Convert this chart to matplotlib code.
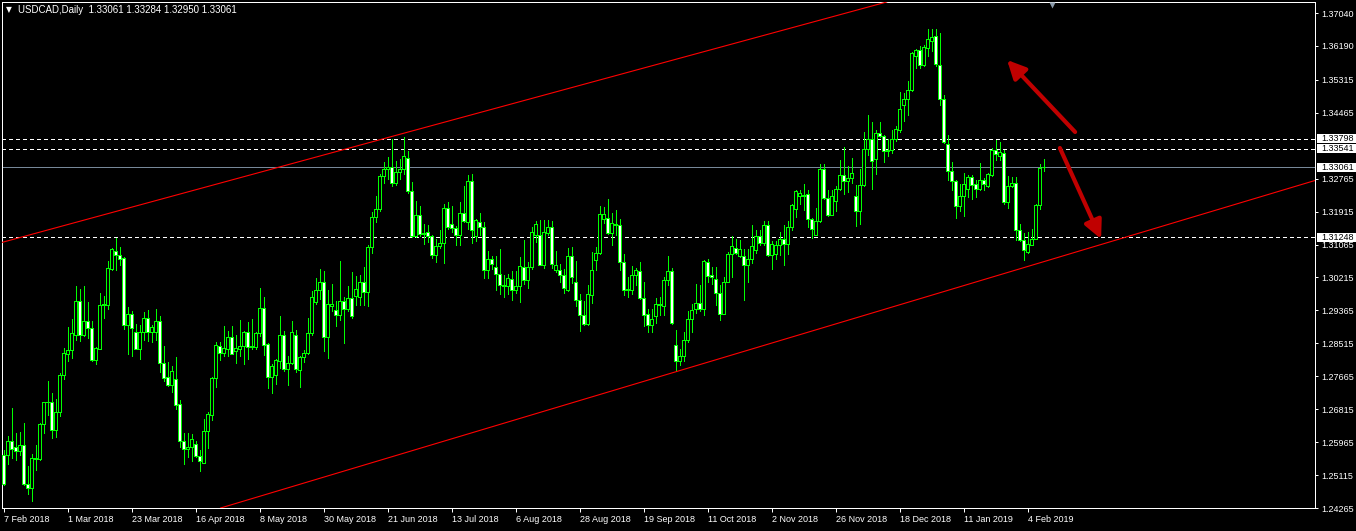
import numpy as np
import pandas as pd
import matplotlib
matplotlib.use("Agg")
import matplotlib.pyplot as plt
import matplotlib.transforms as mtransforms
from matplotlib.collections import LineCollection, PolyCollection
from matplotlib.patches import Rectangle

plt.rcParams['font.family'] = ['Liberation Sans', 'DejaVu Sans']

# --- dane: USDCAD D1, 7 Feb 2018 - 8 Feb 2019 (odczyt z wykresu) ---
symbol = "USDCAD,Daily"

opens = [
    1.2562, 1.2562, 1.2599, 1.2583, 1.2573, 1.2588, 1.2488, 1.2477, 1.2555, 1.2553,
    1.2642, 1.2699, 1.2699, 1.2629, 1.2673, 1.2771, 1.2825, 1.2833, 1.2872, 1.2961,
    1.2872, 1.2908, 1.2892, 1.2809, 1.2838, 1.2950, 1.2951, 1.3044, 1.3089, 1.3079,
    1.3071, 1.2900, 1.2926, 1.2880, 1.2838, 1.2882, 1.2918, 1.2880, 1.2882, 1.2908,
    1.2802, 1.2764, 1.2743, 1.2759, 1.2694, 1.2599, 1.2578, 1.2583, 1.2591, 1.2560,
    1.2543, 1.2624, 1.2667, 1.2762, 1.2844, 1.2827, 1.2838, 1.2867, 1.2831, 1.2838,
    1.2844, 1.2881, 1.2844, 1.2841, 1.2877,
    1.2943, 1.2850, 1.2764, 1.2769, 1.2807, 1.2872, 1.2784, 1.2800, 1.2872, 1.2782,
    1.2815, 1.2826, 1.2877, 1.2957, 1.2988, 1.3011, 1.2869, 1.2949, 1.2937, 1.2925,
    1.2962, 1.2939, 1.2968, 1.2974, 1.2972, 1.3009, 1.2983, 1.3099, 1.3177, 1.3197,
    1.3283, 1.3301, 1.3306, 1.3264, 1.3293, 1.3302, 1.3331, 1.3244, 1.3129, 1.3182,
    1.3134, 1.3138, 1.3128, 1.3080, 1.3102, 1.3110, 1.3202, 1.3159, 1.3149, 1.3132,
    1.3187, 1.3165, 1.3270, 1.3128, 1.3165, 1.3151, 1.3042, 1.3069, 1.3048, 1.3031,
    1.3001, 1.2999, 1.3017, 1.2988, 1.2999, 1.3048, 1.3016, 1.3048, 1.3130, 1.3130,
    1.3053, 1.3136, 1.3151, 1.3040, 1.3040, 1.3029, 1.2990, 1.3076, 1.3009, 1.2964,
    1.2925, 1.2902, 1.2975, 1.3067, 1.3085, 1.3173, 1.3174, 1.3137, 1.3156, 1.3156,
    1.3061, 1.2990, 1.2988, 1.3027, 1.3037, 1.2968, 1.2928, 1.2898, 1.2923, 1.2951,
    1.2949, 1.3014, 1.3037, 1.2846, 1.2807, 1.2818, 1.2859, 1.2915, 1.2941, 1.2955,
    1.2939, 1.3061, 1.3027, 1.3017, 1.2982, 1.2928, 1.3011, 1.3081, 1.3097, 1.3078,
    1.3078, 1.3053, 1.3068, 1.3093, 1.3128, 1.3110, 1.3156, 1.3080, 1.3083,
    1.3104, 1.3120, 1.3107, 1.3151, 1.3199, 1.3231, 1.3235, 1.3236, 1.3173, 1.3132,
    1.3166, 1.3302, 1.3227, 1.3183, 1.3218, 1.3249, 1.3285, 1.3270, 1.3277, 1.3232,
    1.3194, 1.3259, 1.3352, 1.3378, 1.3328, 1.3394, 1.3386, 1.3347, 1.3350, 1.3380,
    1.3401, 1.3466, 1.3481, 1.3504, 1.3592, 1.3608, 1.3569, 1.3614, 1.3633, 1.3645,
    1.3571, 1.3481, 1.3365, 1.3295, 1.3270, 1.3205, 1.3233, 1.3249, 1.3281, 1.3262,
    1.3251, 1.3272, 1.3257, 1.3287, 1.3351, 1.3334, 1.3342, 1.3215, 1.3257, 1.3265,
    1.3143, 1.3117, 1.3087, 1.3106, 1.3122, 1.3208, 1.33061,
]
highs = [
    1.2575, 1.2612, 1.2685, 1.2620, 1.2623, 1.2646, 1.2534, 1.2565, 1.2588, 1.2646,
    1.2699, 1.2754, 1.2723, 1.2708, 1.2774, 1.2839, 1.2894, 1.2913, 1.2999, 1.2991,
    1.2999, 1.2958, 1.2908, 1.2842, 1.2981, 1.2974, 1.3064, 1.3098, 1.3123, 1.3100,
    1.3074, 1.2945, 1.2935, 1.2901, 1.2900, 1.2932, 1.2937, 1.2899, 1.2939, 1.2922,
    1.2845, 1.2803, 1.2793, 1.2816, 1.2704, 1.2620, 1.2620, 1.2617, 1.2599, 1.2575,
    1.2655, 1.2673, 1.2765, 1.2855, 1.2855, 1.2896, 1.2883, 1.2895, 1.2872, 1.2911,
    1.2883, 1.2906, 1.2913, 1.2881, 1.2994,
    1.2971, 1.2852, 1.2797, 1.2810, 1.2922, 1.2883, 1.2819, 1.2908, 1.2887, 1.2818,
    1.2834, 1.2917, 1.2986, 1.3020, 1.3043, 1.3038, 1.2989, 1.3005, 1.2960, 1.3064,
    1.2971, 1.3000, 1.3036, 1.3025, 1.3027, 1.3048, 1.3104, 1.3190, 1.3233, 1.3289,
    1.3319, 1.3332, 1.3380, 1.3322, 1.3328, 1.3384, 1.3347, 1.3268, 1.3220, 1.3206,
    1.3159, 1.3156, 1.3130, 1.3122, 1.3143, 1.3212, 1.3216, 1.3206, 1.3154, 1.3216,
    1.3257, 1.3285, 1.3288, 1.3173, 1.3188, 1.3165, 1.3089, 1.3076, 1.3076, 1.3096,
    1.3029, 1.3031, 1.3038, 1.3038, 1.3074, 1.3117, 1.3061, 1.3152, 1.3167, 1.3171,
    1.3171, 1.3171, 1.3167, 1.3089, 1.3057, 1.3043, 1.3097, 1.3100, 1.3064, 1.2979,
    1.2961, 1.3003, 1.3087, 1.3100, 1.3206, 1.3203, 1.3223, 1.3188, 1.3195, 1.3172,
    1.3083, 1.3023, 1.3050, 1.3047, 1.3061, 1.3011, 1.2939, 1.2939, 1.2968, 1.2971,
    1.3023, 1.3078, 1.3046, 1.2885, 1.2838, 1.2881, 1.2934, 1.2953, 1.3005, 1.3001,
    1.3067, 1.3068, 1.3048, 1.3048, 1.3003, 1.3023, 1.3087, 1.3128, 1.3122, 1.3119,
    1.3096, 1.3096, 1.3156, 1.3143, 1.3143, 1.3166, 1.3167, 1.3115, 1.3116,
    1.3140, 1.3156, 1.3166, 1.3212, 1.3248, 1.3246, 1.3262, 1.3246, 1.3175, 1.3201,
    1.3315, 1.3315, 1.3246, 1.3246, 1.3257, 1.3324, 1.3358, 1.3308, 1.3330, 1.3259,
    1.3302, 1.3397, 1.3442, 1.3423, 1.3401, 1.3423, 1.3388, 1.3380, 1.3401, 1.3412,
    1.3500, 1.3497, 1.3528, 1.3603, 1.3612, 1.3619, 1.3622, 1.3662, 1.3664, 1.3662,
    1.3652, 1.3492, 1.3388, 1.3319, 1.3272, 1.3262, 1.3292, 1.3285, 1.3285, 1.3272,
    1.3318, 1.3277, 1.3292, 1.3356, 1.3377, 1.3371, 1.3351, 1.3283, 1.3281, 1.3281,
    1.3160, 1.3137, 1.3140, 1.3146, 1.3212, 1.3315, 1.33284,
]
lows = [
    1.2486, 1.2539, 1.2556, 1.2550, 1.2562, 1.2486, 1.2462, 1.2445, 1.2524, 1.2551,
    1.2621, 1.2667, 1.2608, 1.2610, 1.2665, 1.2759, 1.2805, 1.2814, 1.2859, 1.2857,
    1.2870, 1.2864, 1.2806, 1.2799, 1.2836, 1.2917, 1.2941, 1.3042, 1.3042, 1.3053,
    1.2888, 1.2825, 1.2820, 1.2836, 1.2812, 1.2859, 1.2857, 1.2855, 1.2859, 1.2778,
    1.2753, 1.2741, 1.2726, 1.2683, 1.2584, 1.2541, 1.2558, 1.2548, 1.2558, 1.2523,
    1.2542, 1.2582, 1.2653, 1.2740, 1.2809, 1.2819, 1.2819, 1.2823, 1.2802, 1.2820,
    1.2799, 1.2810, 1.2838, 1.2836, 1.2870,
    1.2822, 1.2737, 1.2724, 1.2747, 1.2789, 1.2779, 1.2745, 1.2797, 1.2777, 1.2739,
    1.2803, 1.2825, 1.2872, 1.2954, 1.2967, 1.2832, 1.2814, 1.2935, 1.2895, 1.2911,
    1.2853, 1.2935, 1.2918, 1.2951, 1.2951, 1.2951, 1.2947, 1.3085, 1.3165, 1.3192,
    1.3264, 1.3276, 1.3257, 1.3261, 1.3276, 1.3289, 1.3239, 1.3126, 1.3126, 1.3128,
    1.3109, 1.3113, 1.3072, 1.3061, 1.3098, 1.3060, 1.3146, 1.3139, 1.3106, 1.3106,
    1.3165, 1.3147, 1.3111, 1.3115, 1.3132, 1.3020, 1.3020, 1.3044, 1.2990, 1.2978,
    1.2971, 1.2980, 1.2964, 1.2981, 1.2958, 1.3004, 1.2995, 1.3044, 1.3113, 1.3053,
    1.3047, 1.3130, 1.3047, 1.3036, 1.3011, 1.2982, 1.2986, 1.3007, 1.2949, 1.2883,
    1.2900, 1.2900, 1.2956, 1.3042, 1.3083, 1.3162, 1.3134, 1.3106, 1.3130, 1.3040,
    1.2975, 1.2971, 1.2980, 1.3001, 1.2967, 1.2896, 1.2882, 1.2881, 1.2904, 1.2925,
    1.2925, 1.3003, 1.2902, 1.2779, 1.2795, 1.2805, 1.2855, 1.2881, 1.2931, 1.2934,
    1.2924, 1.3010, 1.3005, 1.2951, 1.2912, 1.2926, 1.3010, 1.3023, 1.3083, 1.3075,
    1.2964, 1.3010, 1.3060, 1.3085, 1.3106, 1.3104, 1.3078, 1.3044, 1.3068,
    1.3080, 1.3053, 1.3083, 1.3143, 1.3177, 1.3212, 1.3195, 1.3152, 1.3123, 1.3130,
    1.3165, 1.3225, 1.3179, 1.3182, 1.3194, 1.3246, 1.3236, 1.3242, 1.3266, 1.3154,
    1.3160, 1.3257, 1.3338, 1.3251, 1.3289, 1.3384, 1.3319, 1.3334, 1.3343, 1.3373,
    1.3397, 1.3426, 1.3442, 1.3502, 1.3562, 1.3562, 1.3566, 1.3592, 1.3605, 1.3566,
    1.3466, 1.3369, 1.3274, 1.3248, 1.3176, 1.3193, 1.3179, 1.3229, 1.3223, 1.3229,
    1.3246, 1.3248, 1.3255, 1.3283, 1.3324, 1.3324, 1.3212, 1.3201, 1.3255, 1.3117,
    1.3115, 1.3066, 1.3085, 1.3104, 1.3120, 1.3199, 1.32950,
]
closes = [
    1.2488, 1.2599, 1.2578, 1.2573, 1.2588, 1.2488, 1.2477, 1.2555, 1.2552, 1.2643,
    1.2699, 1.2701, 1.2629, 1.2673, 1.2771, 1.2826, 1.2833, 1.2877, 1.2962, 1.2872,
    1.2908, 1.2892, 1.2808, 1.2839, 1.2950, 1.2953, 1.3045, 1.3094, 1.3079, 1.3070,
    1.2900, 1.2926, 1.2892, 1.2838, 1.2882, 1.2918, 1.2881, 1.2893, 1.2908, 1.2802,
    1.2763, 1.2745, 1.2779, 1.2693, 1.2599, 1.2578, 1.2583, 1.2604, 1.2560, 1.2547,
    1.2624, 1.2669, 1.2762, 1.2846, 1.2827, 1.2839, 1.2867, 1.2825, 1.2839, 1.2844,
    1.2881, 1.2842, 1.2841, 1.2877, 1.2942,
    1.2848, 1.2764, 1.2792, 1.2808, 1.2872, 1.2786, 1.2800, 1.2881, 1.2784, 1.2815,
    1.2826, 1.2877, 1.2970, 1.2988, 1.3011, 1.2869, 1.2952, 1.2954, 1.2925, 1.2962,
    1.2939, 1.2968, 1.2923, 1.2991, 1.3009, 1.2983, 1.3099, 1.3177, 1.3197, 1.3283,
    1.3301, 1.3307, 1.3264, 1.3293, 1.3302, 1.3334, 1.3244, 1.3129, 1.3182, 1.3134,
    1.3137, 1.3128, 1.3079, 1.3102, 1.3110, 1.3202, 1.3151, 1.3149, 1.3132, 1.3187,
    1.3166, 1.3270, 1.3143, 1.3169, 1.3151, 1.3042, 1.3069, 1.3057, 1.3031, 1.3001,
    1.2999, 1.3020, 1.2988, 1.2999, 1.3050, 1.3016, 1.3048, 1.3138, 1.3159, 1.3054,
    1.3138, 1.3153, 1.3057, 1.3053, 1.3029, 1.2993, 1.3076, 1.3023, 1.2964, 1.2925,
    1.2902, 1.2978, 1.3040, 1.3085, 1.3184, 1.3184, 1.3137, 1.3161, 1.3160, 1.3062,
    1.2990, 1.2992, 1.3029, 1.3040, 1.2968, 1.2925, 1.2898, 1.2914, 1.2953, 1.2953,
    1.3014, 1.3037, 1.2904, 1.2807, 1.2818, 1.2859, 1.2915, 1.2937, 1.2955, 1.2939,
    1.3063, 1.3024, 1.3022, 1.2982, 1.2928, 1.3011, 1.3081, 1.3102, 1.3085, 1.3094,
    1.3053, 1.3068, 1.3102, 1.3128, 1.3110, 1.3156, 1.3080, 1.3107, 1.3104,
    1.3120, 1.3107, 1.3151, 1.3208, 1.3244, 1.3240, 1.3231, 1.3173, 1.3146, 1.3166,
    1.3302, 1.3227, 1.3182, 1.3233, 1.3249, 1.3287, 1.3270, 1.3277, 1.3290, 1.3194,
    1.3259, 1.3352, 1.3378, 1.3321, 1.3394, 1.3386, 1.3347, 1.3350, 1.3380, 1.3404,
    1.3457, 1.3481, 1.3504, 1.3601, 1.3608, 1.3569, 1.3616, 1.3636, 1.3642, 1.3573,
    1.3483, 1.3371, 1.3295, 1.3270, 1.3205, 1.3233, 1.3263, 1.3281, 1.3261, 1.3249,
    1.3272, 1.3262, 1.3289, 1.3350, 1.3339, 1.3345, 1.3215, 1.3257, 1.3265, 1.3143,
    1.3117, 1.3093, 1.3109, 1.3122, 1.3209, 1.3304, 1.33061,
]

# skala cen po prawej i poziomy
price_ticks = [1.24265, 1.25115, 1.25965, 1.26815, 1.27665, 1.28515, 1.29365,
               1.30215, 1.31065, 1.31915, 1.32765, 1.34465, 1.35315, 1.36190, 1.37040]
dashed_levels = [1.33798, 1.33541, 1.31248]
bid_level = 1.33061

# linie trendu (indeks swiecy, cena) i strzalki (ogon -> grot)
upper_trend = [(0, 1.3113), (110.5, 1.3423)]
lower_trend = [(149.6, 1.2721), (261.6, 1.3067)]
arrows = [((267.9, 1.33969), (250.9, 1.35827)),
          ((264.1, 1.33556), (274.4, 1.31208))]

# daty: dni robocze bez 25 XII i 1 I (brak swiec u brokera)
dates = pd.bdate_range("2018-02-07", periods=len(closes) + 2)
dates = dates[~dates.isin(pd.to_datetime(["2018-12-25", "2019-01-01"]))][:len(closes)]
tick_idx = list(range(0, len(closes), 16))
tick_lbl = ["%d %s" % (dates[i].day, dates[i].strftime("%b %Y")) for i in tick_idx]

# --------------------------------------------------------------------------
W, H = 1356, 531
fig = plt.figure(figsize=(W / 100, H / 100), dpi=100, facecolor="black")
ax = fig.add_axes([2 / W, 23 / H, 1313 / W, 506 / H])
ax.set_facecolor("black")
ax.set_xlim(-0.375, 327.875)
ax.set_ylim(1.24265, 1.37324)

green = "#00ff00"
px = 0.72  # 1 piksel w punktach

o, h, l, c = map(np.asarray, (opens, highs, lows, closes))
x = np.arange(len(c))

wicks = [[(xi, lo), (xi, hi)] for xi, lo, hi in zip(x, l, h)]
ax.add_collection(LineCollection(wicks, colors=green, linewidths=px,
                                 antialiaseds=False, zorder=3))
hw = 0.3
bodies = [[(xi - hw, oi), (xi + hw, oi), (xi + hw, ci), (xi - hw, ci)]
          for xi, oi, ci in zip(x, o, c)]
faces = ["black" if ci > oi else "white" for oi, ci in zip(o, c)]
ax.add_collection(PolyCollection(bodies, facecolors=faces, edgecolors=green,
                                 linewidths=px, antialiaseds=False, zorder=4))

for lv in dashed_levels:
    ax.axhline(lv, color="white", lw=px, ls=(0, (4, 3)), antialiased=False, zorder=2)
ax.axhline(bid_level, color="#778899", lw=px, antialiased=False, zorder=2)

for (p1, p2) in (upper_trend, lower_trend):
    ax.axline(p1, p2, color="red", lw=0.8, zorder=5)

for tail, head in arrows:
    ax.annotate("", xy=head, xytext=tail,
                arrowprops=dict(arrowstyle="-|>,head_length=0.55,head_width=0.27",
                                mutation_scale=20, color="#c00000", lw=3.0,
                                shrinkA=0, shrinkB=0), zorder=6)

# znacznik przesuniecia wykresu
ax.plot([262], [0.995], marker="v", ms=5, color="#8a9aaa", mec="none",
        transform=mtransforms.blended_transform_factory(ax.transData, ax.transAxes),
        clip_on=False, zorder=7)

for s in ax.spines.values():
    s.set_color("white")
    s.set_linewidth(px)

ax.yaxis.tick_right()
ax.set_yticks(price_ticks)
ax.set_yticklabels(["%.5f" % v for v in price_ticks])
ax.tick_params(axis="y", colors="white", length=2.2, width=px, pad=2, labelsize=6.5)
ax.set_xticks(tick_idx)
ax.set_xticklabels(tick_lbl, ha="left")
ax.tick_params(axis="x", colors="white", length=3, width=px, pad=2, labelsize=6.5)

# etykiety poziomow na osi cen
ymin, ymax = ax.get_ylim()
box_h = 9 * (ymax - ymin) / 506
tr = mtransforms.blended_transform_factory(fig.transFigure, ax.transData)
for lv in dashed_levels + [bid_level]:
    fig.add_artist(Rectangle((1317 / W, lv - box_h / 2), 39 / W, box_h,
                             transform=tr, facecolor="white", edgecolor="none", zorder=5))
    fig.text(1321 / W, lv, "%.5f" % lv, transform=tr, color="black",
             fontsize=6.5, va="center", ha="left", zorder=6)

# naglowek
fig.text(6 / W, 1 - 10 / H, "\u25bc", color="white", fontsize=5.5, va="center",
         family=["DejaVu Sans"])
fig.text(18 / W, 1 - 10 / H, "%s  %.5f %.5f %.5f %.5f" % (symbol, o[-1], h[-1], l[-1], c[-1]),
         color="white", fontsize=7, va="center")

fig.savefig("out.png", dpi=100, facecolor="black")
